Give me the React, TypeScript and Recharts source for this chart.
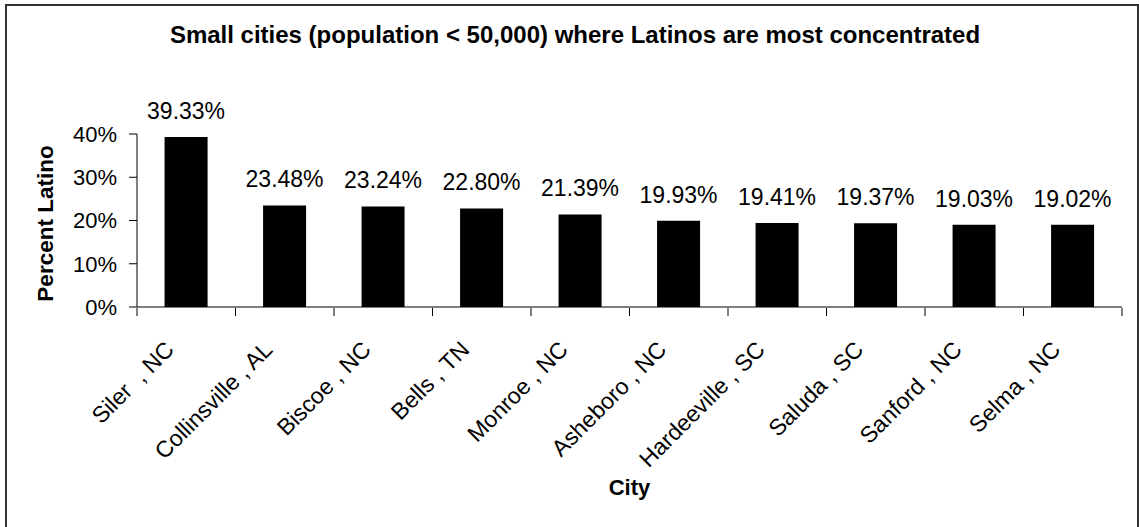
import { BarChart, Bar, XAxis, YAxis, LabelList } from "recharts";

const cities = [
  "Siler  , NC",
  "Collinsville , AL",
  "Biscoe , NC",
  "Bells , TN",
  "Monroe , NC",
  "Asheboro , NC",
  "Hardeeville , SC",
  "Saluda , SC",
  "Sanford , NC",
  "Selma , NC",
];
const percentLatino = [39.33, 23.48, 23.24, 22.8, 21.39, 19.93, 19.41, 19.37, 19.03, 19.02];
const yTicks = [0, 10, 20, 30, 40];
const edgeTicks = [0, 1, 2, 3, 4, 5, 6, 7, 8, 9, 10];

const FONT = "'Liberation Sans', Arial, sans-serif";

const data = cities.map((city, i) => ({ city, value: percentLatino[i], edge: i + 0.5 }));

function CityTick(props: any) {
  const { x, y, payload } = props;
  const tx = x - 11;
  const ty = y + 44;
  return (
    <text
      x={tx}
      y={ty}
      transform={`rotate(-45 ${tx} ${ty})`}
      textAnchor="end"
      fontSize={23}
      fontFamily={FONT}
      fill="#000"
      style={{ whiteSpace: "pre" }}
    >
      {payload.value}
    </text>
  );
}

export default function App() {
  return (
    <div
      style={{
        position: "fixed",
        left: 0,
        top: 0,
        width: 1139,
        height: 527,
        overflow: "hidden",
        background: "#fff",
        fontFamily: FONT,
      }}
    >
      <div
        style={{
          position: "absolute",
          left: 5,
          top: 4,
          width: 1134,
          height: 560,
          border: "2px solid #333",
          boxSizing: "border-box",
        }}
      />
      <div
        style={{
          position: "absolute",
          left: 0,
          top: 24,
          width: 1150,
          textAlign: "center",
          fontSize: 24,
          lineHeight: "22px",
          fontWeight: "bold",
          color: "#000",
        }}
      >
        Small cities (population &lt; 50,000) where Latinos are most concentrated
      </div>
      <div style={{ position: "absolute", left: 0, top: 0 }}>
        <BarChart
          width={1139}
          height={527}
          data={data}
          margin={{ top: 134, right: 17, bottom: 218, left: 77 }}
          barCategoryGap="28%"
        >
          <XAxis
            xAxisId="cat"
            dataKey="city"
            interval={0}
            tickLine={false}
            tickSize={0}
            tickMargin={0}
            axisLine={{ stroke: "#000" }}
            tick={<CityTick />}
            height={1}
            label={{
              content: (p: any) => {
                const vb = p.viewBox;
                return (
                  <text
                    x={vb.x + vb.width / 2}
                    y={vb.y + 188}
                    textAnchor="middle"
                    fontSize={22}
                    fontWeight="bold"
                    fontFamily={FONT}
                    fill="#000"
                  >
                    City
                  </text>
                );
              },
            }}
          />
          <XAxis
            xAxisId="edges"
            dataKey="edge"
            type="number"
            domain={[0, 10]}
            ticks={edgeTicks}
            tickFormatter={() => ""}
            tickSize={8}
            axisLine={false}
            tickLine={{ stroke: "#000" }}
            height={1}
          />
          <YAxis
            width={60}
            domain={[0, 40]}
            ticks={yTicks}
            tickFormatter={(v: number) => `${v}%`}
            tickSize={8}
            tickMargin={12}
            axisLine={{ stroke: "#000" }}
            tickLine={{ stroke: "#000" }}
            tick={{ fontSize: 22, fill: "#000", fontFamily: FONT }}
            label={{
              content: (p: any) => {
                const vb = p.viewBox;
                const cx = vb.x - 24;
                const cy = vb.y + vb.height / 2 + 3;
                return (
                  <text
                    x={cx}
                    y={cy}
                    transform={`rotate(-90 ${cx} ${cy})`}
                    textAnchor="middle"
                    fontSize={22.5}
                    fontWeight="bold"
                    fontFamily={FONT}
                    fill="#000"
                  >
                    Percent Latino
                  </text>
                );
              },
            }}
          />
          <Bar dataKey="value" xAxisId="cat" fill="#000" isAnimationActive={false}>
            <LabelList
              dataKey="value"
              position="top"
              offset={18}
              formatter={(v: any) => `${Number(v).toFixed(2)}%`}
              fontSize={23}
              fill="#000"
              fontFamily={FONT}
            />
          </Bar>
        </BarChart>
      </div>
    </div>
  );
}
